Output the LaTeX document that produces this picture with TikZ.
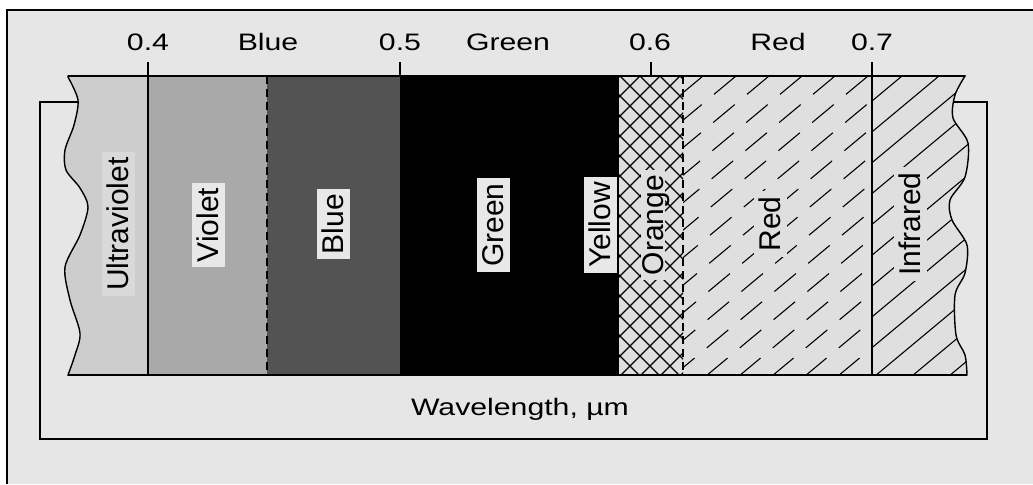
\documentclass[tikz,border=0pt]{standalone}
\usepackage{fontspec}
\setmainfont{Liberation Sans}
\definecolor{bg}{HTML}{E6E6E6}
\definecolor{uvc}{HTML}{CDCDCD}
\definecolor{uvbox}{HTML}{D9D9D9}
\definecolor{vic}{HTML}{A9A9A9}
\definecolor{blc}{HTML}{535353}
\definecolor{hatchbg}{HTML}{DFDFDF}
\definecolor{labbox}{HTML}{E8E8E8}
\newcommand\bandshape[1]{%
  \path[#1] (68,76) -- (965,76)
    -- plot[smooth] coordinates {(965,76) (955,95) (953,118) (968,143) (965,177) (950,200) (952,220) (967,245) (965,273) (955,295) (956,335) (965,355) (967,375)}
    -- (68,375)
    -- plot[smooth] coordinates {(68,375) (75,355) (80,333) (70,300) (65,267) (80,235) (88,207) (80,188) (66,170) (65,150) (74,125) (78,100) (68,77)}
    -- cycle;}
\begin{document}
\begin{tikzpicture}[x=0.5pt,y=-0.5pt,
  toplab/.style={font=\fontsize{11.9}{14}\selectfont, xscale=1.27, anchor=base, inner sep=0pt},
  vlab/.style={rotate=90, font=\fontsize{15}{18}\selectfont, text height=11pt, text depth=0.3pt, inner xsep=2.5pt, inner ysep=2.6pt},
  boxed/.style={vlab, fill=labbox},
  frameline/.style={line width=1.2pt},
  boxline/.style={line width=0.8pt},
  hatch/.style={line width=0.55pt},
  dashhatch/.style={line width=0.55pt, dash pattern=on 14pt off 8pt},
  bandline/.style={line width=1pt},
  dashb/.style={line width=0.8pt, dash pattern=on 4pt off 2.5pt}]
\useasboundingbox (0,0) rectangle (1033,484);
\fill[white] (0,0) rectangle (1033,484);
\fill[bg] (7,10) rectangle (1033,484);
\draw[frameline] (7,484) -- (7,10) -- (1033,10);
\draw[boxline] (40,102) rectangle (987,439);
% band fills
\begin{scope}
  \bandshape{clip}
  \fill[uvc] (0,0) rectangle (148,400);
  \fill[vic] (148,0) rectangle (267,400);
  \fill[blc] (267,0) rectangle (400,400);
  \fill[black] (400,0) rectangle (619,400);
  \fill[hatchbg] (619,0) rectangle (1033,400);
  \begin{scope}
    \clip (619,76) rectangle (683,375);
    \foreach \a in {300,320,...,700} {
      \draw[hatch] (\a,76) -- ++(300,300);
      \draw[hatch] (\a,376) -- ++(300,-300);
    }
  \end{scope}
  \begin{scope}
    \clip (683,76) rectangle (872,375);
    \foreach \a in {310,343,...,880} {
      \draw[dashhatch] (\a,376) -- ++(360,-300);
    }
  \end{scope}
  \begin{scope}
    \clip (872,0) rectangle (1033,400);
    \foreach \a in {505,542,...,980} {
      \draw[hatch] (\a,376) -- ++(360,-300);
    }
  \end{scope}
\end{scope}
% boundaries
\draw[dashb] (267,76) -- (267,375);
\draw[dashb] (683,76) -- (683,375);
\draw[bandline] (148,62) -- (148,375);
\draw[bandline] (872,62) -- (872,375);
\draw[bandline] (400,62) -- (400,76);
\draw[bandline] (651,62) -- (651,76);
\bandshape{draw, line width=0.7pt}
\draw[bandline] (68,76) -- (965,76);
\draw[bandline] (68,375) -- (967,375);
% top labels
\node[toplab] (t04) at (148,50) {0.4};
\node[toplab] (tblue) at (268,50) {Blue};
\node[toplab] (t05) at (400,50) {0.5};
\node[toplab] (tgreen) at (508,50) {Green};
\node[toplab] (t06) at (650,50) {0.6};
\node[toplab] (tred) at (778,50) {Red};
\node[toplab] (t07) at (872,50) {0.7};
% band labels
\node[vlab, fill=uvbox] (luv) at (118,224) {Ultraviolet};
\node[boxed] (lvio) at (208,225) {Violet};
\node[boxed] (lblue) at (333,224) {Blue};
\node[boxed] (lgreen) at (493,225) {Green};
\node[boxed] (lyel) at (600,225) {Yellow};
\node[vlab, fill=hatchbg, inner ysep=0.5pt] (lora) at (653,225) {Orange};
\node[vlab, fill=hatchbg] (lred) at (770,224) {Red};
\node[vlab, fill=hatchbg] (lir) at (910,224) {Infrared};
% axis label
\node[toplab] (wl) at (520,415) {Wavelength, µm};
\end{tikzpicture}
\end{document}
